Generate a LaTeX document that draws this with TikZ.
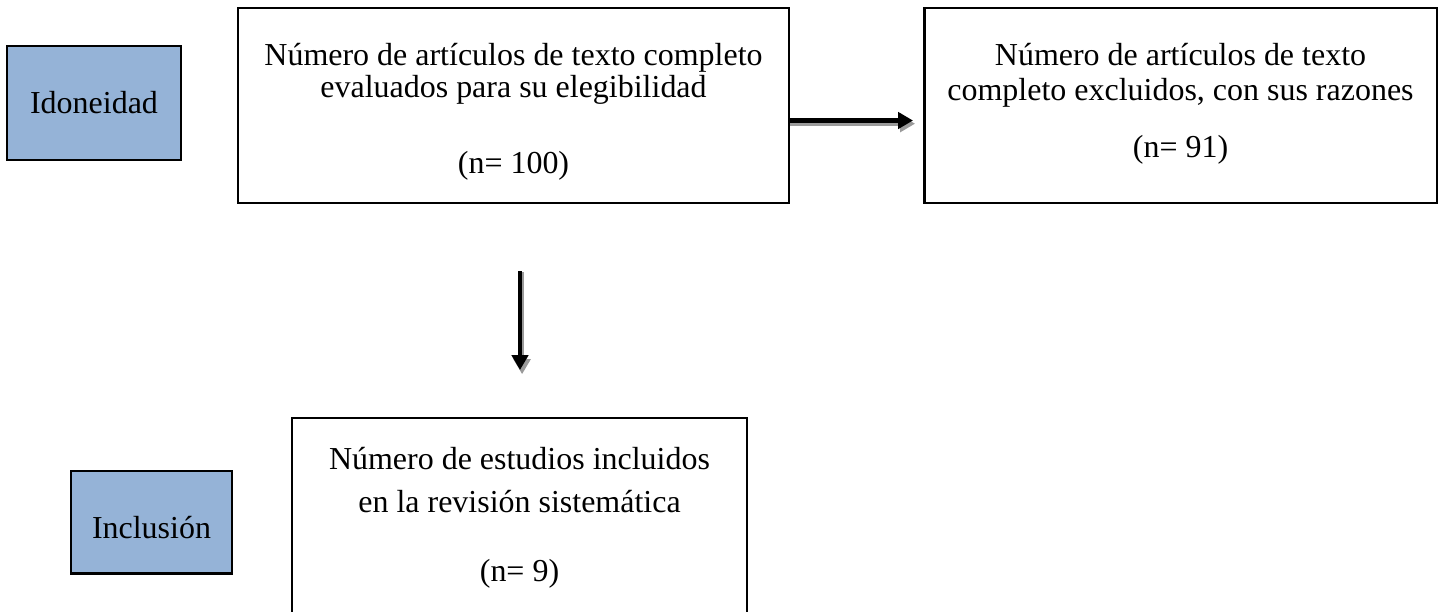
\documentclass[tikz,border=0pt]{standalone}
\usepackage{fontspec}
\setmainfont{Liberation Serif}
\usetikzlibrary{arrows.meta}
\definecolor{stageblue}{HTML}{95B3D7}
\definecolor{shadowgray}{HTML}{9A9A9A}
\begin{document}
\begin{tikzpicture}[x=0.38pt,y=-0.38pt,
  every node/.style={font=\fontsize{12.15pt}{14pt}\selectfont},
  stagebox/.style={draw=black,line width=1.1pt,fill=stageblue,inner sep=0pt},
  flowbox/.style={draw=black,line width=1.1pt,fill=white,inner sep=0pt},
  txt/.style={anchor=base,inner sep=0pt,outer sep=0pt},
  bigarrow/.style={line width=1.8pt,-{Triangle[length=5.7pt,width=6.2pt]}},
  shadowarrow/.style={bigarrow,draw=shadowgray}
]
\useasboundingbox (0,0) rectangle (1442,611);
\clip (0,0) rectangle (1442,611);
\fill[white] (0,0) rectangle (1442,611);

% boxes
\node[stagebox,minimum width=66.1pt,minimum height=43.3pt] (idon) at (94,103) {};
\node[flowbox,minimum width=209.4pt,minimum height=74.1pt] (A) at (513.5,105.5) {};
\node[flowbox,minimum width=194.9pt,minimum height=74.1pt] (B) at (1180.5,105.5) {};
\node[stagebox,minimum width=61.2pt,minimum height=38.8pt] (incl) at (151.5,522) {};
\node[flowbox,minimum width=172.9pt,minimum height=92pt] (C) at (519.5,539) {};

% texts
\node[txt] (idonT) at (94,113) {Idoneidad};
\node[txt] (inclT) at (151.5,538) {Inclusión};

\node[txt] (A1) at (513.5,65) {Número de artículos de texto completo};
\node[txt] (A2) at (513.5,97) {evaluados para su elegibilidad};
\node[txt] (A3) at (513.5,173) {(n= 100)};

\node[txt] (B1) at (1180.5,65) {Número de artículos de texto};
\node[txt] (B2) at (1180.5,100) {completo excluidos, con sus razones};
\node[txt] (B3) at (1180.5,157) {(n= 91)};

\node[txt] (C1) at (519.5,469) {Número de estudios incluidos};
\node[txt] (C2) at (519.5,512) {en la revisión sistemática};
\node[txt] (C3) at (519.5,581) {(n= 9)};

% arrows
\coordinate (h0) at (790,120.5);
\coordinate (h1) at (913,120.5);
\coordinate (v0) at (520,271);
\coordinate (v1) at (520,370);

\draw[shadowarrow] ([xshift=0pt,yshift=-1.2pt]h0) -- ([xshift=0.8pt,yshift=-1.2pt]h1);
\draw[bigarrow] (h0) -- (h1);
\draw[shadowarrow] ([xshift=0.8pt,yshift=-0.4pt]v0) -- ([xshift=0.8pt,yshift=-1.6pt]v1);
\draw[bigarrow] (v0) -- (v1);
\end{tikzpicture}
\end{document}
